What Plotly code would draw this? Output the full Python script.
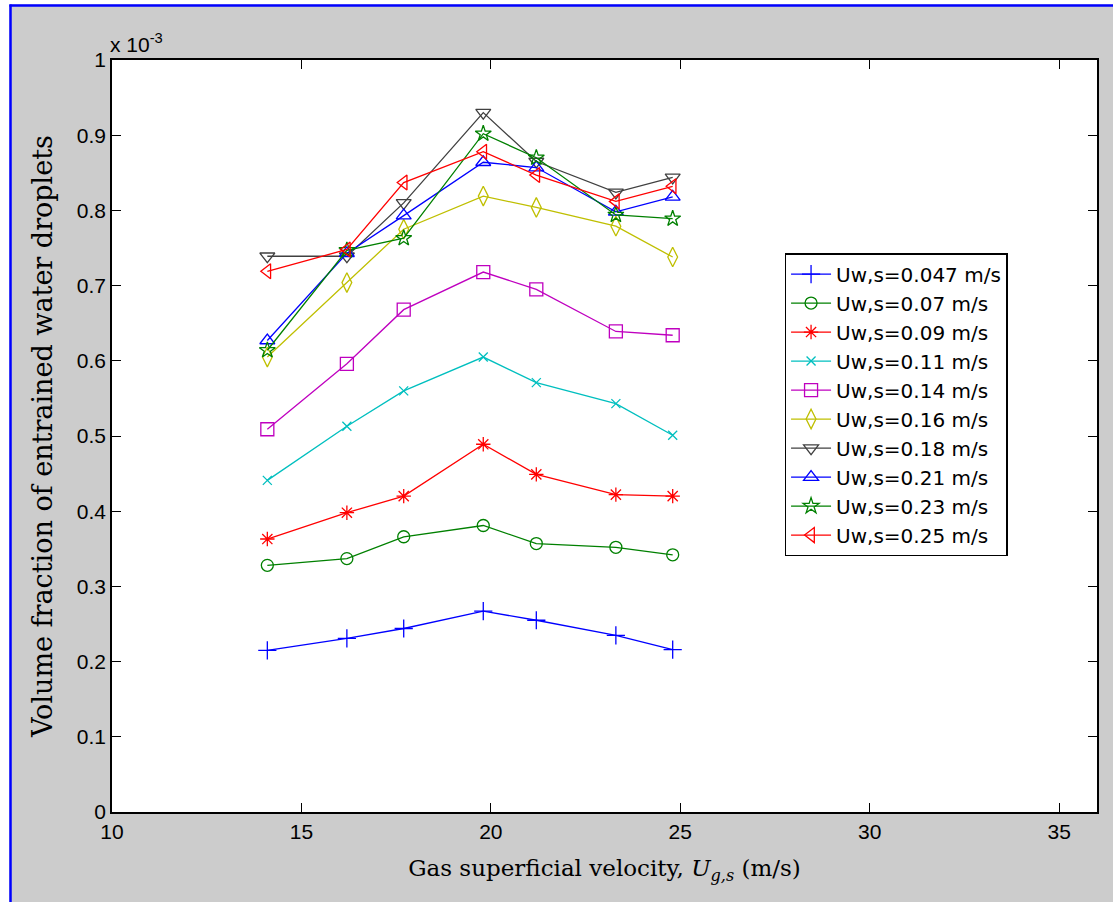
import plotly.graph_objects as go

# Gas superficial velocity (m/s)
x_vals = [14.1, 16.2, 17.7, 19.8, 21.2, 23.3, 24.8]

# Volume fraction of entrained water droplets (x 10^-3)
labels = ["Uw,s=0.047 m/s", "Uw,s=0.07 m/s", "Uw,s=0.09 m/s", "Uw,s=0.11 m/s",
          "Uw,s=0.14 m/s", "Uw,s=0.16 m/s", "Uw,s=0.18 m/s", "Uw,s=0.21 m/s",
          "Uw,s=0.23 m/s", "Uw,s=0.25 m/s"]
s_047 = [0.215, 0.231, 0.244, 0.267, 0.255, 0.235, 0.216]
s_07 = [0.328, 0.337, 0.366, 0.381, 0.357, 0.352, 0.342]
s_09 = [0.363, 0.398, 0.420, 0.489, 0.449, 0.422, 0.420]
s_11 = [0.441, 0.513, 0.560, 0.605, 0.571, 0.543, 0.501]
s_14 = [0.509, 0.596, 0.668, 0.718, 0.695, 0.639, 0.634]
s_16 = [0.605, 0.704, 0.775, 0.819, 0.804, 0.779, 0.738]
s_18 = [0.739, 0.739, 0.810, 0.930, 0.865, 0.824, 0.844]
s_21 = [0.627, 0.743, 0.793, 0.864, 0.857, 0.798, 0.818]
s_23 = [0.614, 0.747, 0.763, 0.902, 0.870, 0.794, 0.789]
s_25 = [0.719, 0.748, 0.837, 0.878, 0.847, 0.812, 0.832]
series = [s_047, s_07, s_09, s_11, s_14, s_16, s_18, s_21, s_23, s_25]

colors = ["#0000ff", "#008000", "#ff0000", "#00bfbf", "#bf00bf",
          "#bfbf00", "#404040", "#0000ff", "#008000", "#ff0000"]
symbols = ["cross-thin-open", "circle-open", "asterisk-open", "x-thin-open",
           "square-open", "diamond-tall-open", "triangle-down-open",
           "triangle-up-open", "star-open", "triangle-left-open"]
sizes = [13, 12, 12, 9, 13, 14, 13, 13, 12, 13]

fig = go.Figure()
for lab, ys, c, sym, sz in zip(labels, series, colors, symbols, sizes):
    fig.add_trace(go.Scatter(
        x=x_vals, y=ys, name=lab, mode="lines+markers",
        line=dict(color=c, width=1.3),
        marker=dict(symbol=sym, size=sz, color=c, line=dict(color=c, width=1.3)),
    ))

tick_font = dict(family="Liberation Sans, Arial", size=21, color="#000000")
axis_common = dict(
    showline=True, linecolor="#000000", linewidth=1.5, mirror="ticks",
    ticks="inside", ticklen=9, tickwidth=1.3, tickcolor="#000000",
    showgrid=False, zeroline=False, tickfont=tick_font,
)

fig.update_layout(
    width=1113, height=902,
    margin=dict(l=112, r=16, t=60, b=90),
    paper_bgcolor="#cccccc", plot_bgcolor="#ffffff",
    showlegend=True,
    legend=dict(
        x=0.683, y=0.743, xanchor="left", yanchor="top",
        bgcolor="#ffffff", bordercolor="#000000", borderwidth=1.3,
        font=dict(family="DejaVu Sans, Liberation Sans, Arial", size=20, color="#000000"),
        tracegroupgap=0, itemwidth=40,
    ),
    xaxis=dict(range=[10, 36], tickvals=[10, 15, 20, 25, 30, 35],
               ticktext=["10", "15", "20", "25", "30", "35"],
               title=dict(text="Gas superficial velocity, <i>U</i><sub><i>g,s</i></sub> (m/s)",
                          font=dict(family="DejaVu Serif, serif", size=23, color="#000000"),
                          standoff=18),
               **axis_common),
    yaxis=dict(range=[0, 1], tickvals=[0, 0.1, 0.2, 0.3, 0.4, 0.5, 0.6, 0.7, 0.8, 0.9, 1],
               ticktext=["0", "0.1", "0.2", "0.3", "0.4", "0.5", "0.6", "0.7", "0.8", "0.9", "1"],
               title=dict(text="Volume fraction of entrained water droplets",
                          font=dict(family="DejaVu Serif, serif", size=27, color="#000000"),
                          standoff=16),
               **axis_common),
)

# exponent label
fig.add_annotation(x=0, y=1, xref="paper", yref="paper", xanchor="left", yanchor="bottom",
                   text="x 10<sup>-3</sup>", showarrow=False, xshift=-4, yshift=2,
                   font=dict(family="Liberation Sans, Arial", size=21, color="#000000"))

# window frame: white strips outside a blue border on the left and top
px_x = 985.0
px_y = 752.0
def xp(px):
    return (px - 112) / px_x
def yp(py):
    return (812 - py) / px_y

fig.add_shape(type="rect", xref="paper", yref="paper", x0=xp(-5), x1=xp(9.5), y0=yp(910), y1=yp(-5),
              fillcolor="#ffffff", line=dict(width=0), layer="above")
fig.add_shape(type="rect", xref="paper", yref="paper", x0=xp(-5), x1=xp(1120), y0=yp(4.5), y1=yp(-5),
              fillcolor="#ffffff", line=dict(width=0), layer="above")
fig.add_shape(type="line", xref="paper", yref="paper", x0=xp(10.5), x1=xp(10.5), y0=yp(910), y1=yp(4.5),
              line=dict(color="#0000ff", width=2.5), layer="above")
fig.add_shape(type="line", xref="paper", yref="paper", x0=xp(9.5), x1=xp(1120), y0=yp(5.5), y1=yp(5.5),
              line=dict(color="#0000ff", width=2.5), layer="above")

fig.write_html("out.html", config={"displayModeBar": False},
               post_script="document.body.style.margin='0';")
